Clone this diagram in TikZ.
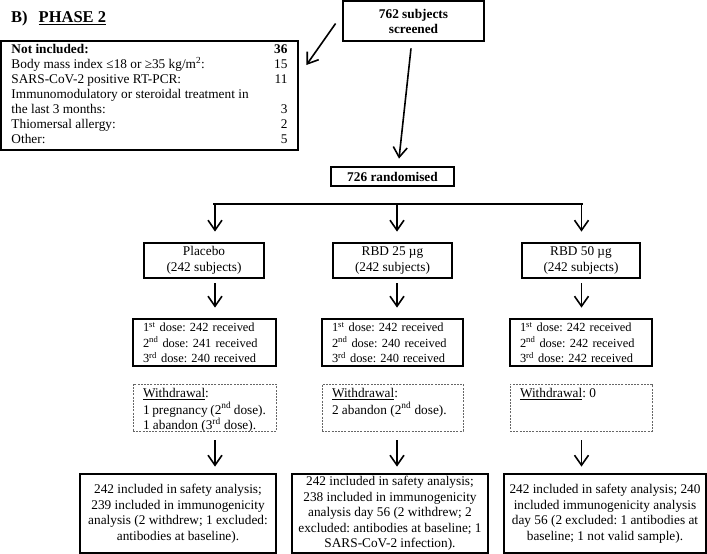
\documentclass[tikz,border=0pt]{standalone}
\usepackage{fontspec}
\setmainfont{Liberation Serif}
\usetikzlibrary{arrows.meta}
\frenchspacing
\begin{document}
\begin{tikzpicture}
  [
    x=1pt, y=-1pt,
    font=\fontsize{13.3}{15.5}\selectfont,
    arr/.style={line width=1.6pt, -{Straight Barb[length=10pt,width=14pt]}},
    box/.style={draw, line width=2.8pt, inner sep=0pt},
    dosebox/.style={box, minimum height=47pt, inner xsep=10pt, align=left,
      font=\fontsize{12.4}{15.5}\selectfont},
    wbox/.style={draw=black!60, line width=0.8pt, dash pattern=on 2pt off 1.2pt,
      inner xsep=10pt, inner ysep=3pt, font=\fontsize{13.3}{14.5}\selectfont},
    head/.style={font=\bfseries\fontsize{13.3}{15}\selectfont}
  ]
  \useasboundingbox (0,0) rectangle (707,554);
  % title
  \node [anchor=base west, inner sep=0pt, font=\bfseries\fontsize{16.5}{18}\selectfont]
    (title) at (11,23) {B)\hspace{11pt}\underline{PHASE 2}};
  % screening
  \node [box, head, minimum width=141pt, minimum height=40pt, align=center]
    (screen) at (413.5,21) {762 subjects\\screened};
  \node [box, minimum width=297pt, minimum height=109pt, font=\fontsize{13.3}{15}\selectfont]
    (excl) at (149.5,95.5) {\begin{tabular*}{276pt}{@{}l@{\extracolsep{\fill}}r@{}}
      \textbf{Not included:} & \textbf{36}\\
      Body mass index ≤18 or ≥35 kg/m\textsuperscript{2}: & 15\\
      SARS-CoV-2 positive RT-PCR: & 11\\
      Immunomodulatory or steroidal treatment in & \\
      the last 3 months: & 3\\
      Thiomersal allergy: & 2\\
      Other: & 5
    \end{tabular*}};
  \node [box, head, minimum width=123pt, minimum height=19pt]
    (rand) at (392.5,176.5) {726 randomised};
  % arms
  \node [box, minimum width=120pt, minimum height=35pt, align=center]
    (arm1) at (204,260.5) {Placebo\\(242 subjects)};
  \node [box, minimum width=119pt, minimum height=35pt, align=center]
    (arm2) at (392.5,260.5) {RBD 25 µg\\(242 subjects)};
  \node [box, minimum width=118pt, minimum height=35pt, align=center]
    (arm3) at (581,260.5) {RBD 50 µg\\(242 subjects)};
  % doses
  \node [dosebox, text width=123pt] (dose1) at (204.5,342.5)
    {1\textsuperscript{st} dose: 242 received\\
     2\textsuperscript{nd} dose: 241 received\\
     3\textsuperscript{rd} dose: 240 received};
  \node [dosebox, text width=121pt] (dose2) at (392.5,342.5)
    {1\textsuperscript{st} dose: 242 received\\
     2\textsuperscript{nd} dose: 240 received\\
     3\textsuperscript{rd} dose: 240 received};
  \node [dosebox, text width=122pt] (dose3) at (581,342.5)
    {1\textsuperscript{st} dose: 242 received\\
     2\textsuperscript{nd} dose: 242 received\\
     3\textsuperscript{rd} dose: 242 received};
  % withdrawals
  \node [wbox] (wd1) at (204.5,407.5) {\parbox[c][41pt][t]{123pt}{\strut\underline{Withdrawal}:\\
      1 pregnancy (2\textsuperscript{nd} dose).\\1 abandon (3\textsuperscript{rd} dose).}};
  \node [wbox] (wd2) at (392.5,407.5) {\parbox[c][41pt][t]{121pt}{\strut\underline{Withdrawal}:\\
      2 abandon (2\textsuperscript{nd} dose).}};
  \node [wbox] (wd3) at (581,407.5) {\parbox[c][41pt][t]{122pt}{\strut\underline{Withdrawal}: 0}};
  % analysis
  \node [box, minimum width=196pt, minimum height=79pt, align=center]
    (fin1) at (178,513.5) {242 included in safety analysis;\\239 included in immunogenicity\\
      analysis (2 withdrew; 1 excluded:\\antibodies at baseline).};
  \node [box, minimum width=196pt, minimum height=79pt, align=center]
    (fin2) at (390,513.5) {242 included in safety analysis;\\238 included in immunogenicity\\
      analysis day 56 (2 withdrew; 2\\excluded: antibodies at baseline; 1\\SARS-CoV-2 infection).};
  \node [box, minimum width=202pt, minimum height=79pt, align=center]
    (fin3) at (605,513.5) {242 included in safety analysis; 240\\included immunogenicity analysis\\
      day 56 (2 excluded: 1 antibodies at\\baseline; 1 not valid sample).};
  % columns and bar
  \coordinate (barL) at (213,204);
  \coordinate (barR) at (583,204);
  \coordinate (c1) at (215,204);
  \coordinate (c2) at (397,204);
  \coordinate (c3) at (581.5,204);
  \draw [line width=2.2pt] (barL) -- (barR);
  % edges
  \draw [arr] ([xshift=-6pt,yshift=-2.5pt]screen.west) -- ([xshift=7pt,yshift=30.5pt]excl.east);
  \draw [arr] ([xshift=-2.5pt,yshift=-6pt]screen.south) -- ([xshift=6.5pt,yshift=7pt]rand.north);
  \foreach \i in {1,2,3} {
    \draw [arr, shorten >=10pt] (c\i) -- (c\i |- arm\i.north);
    \draw [arr, shorten <=4pt, shorten >=10pt] (c\i |- arm\i.south) -- (c\i |- dose\i.north);
    \draw [arr, shorten <=9pt, shorten >=6pt] (c\i |- wd\i.south) -- (c\i |- fin\i.north);
  }
\end{tikzpicture}
\end{document}
